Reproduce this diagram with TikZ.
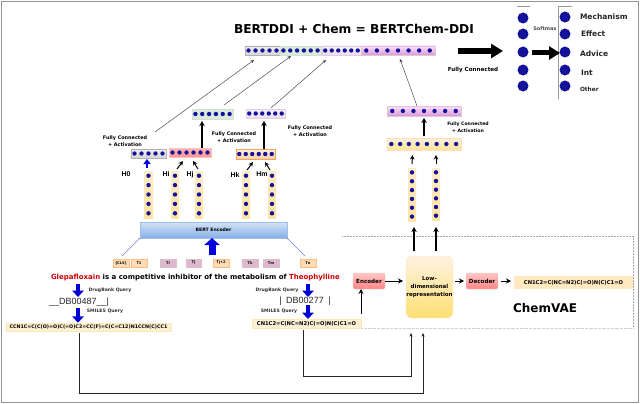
\documentclass[tikz,border=0pt]{standalone}
\usepackage{fontspec}
\setmainfont{DejaVu Sans}
\newfontfamily\arl{Liberation Sans}
\usetikzlibrary{arrows.meta,positioning,calc}
\definecolor{dotblue}{HTML}{12129A}
\definecolor{berttop}{HTML}{D3E3F6}
\definecolor{bertbot}{HTML}{86AEE6}
\tikzset{
  dot/.style={fill=dotblue},
  base/.style={inner sep=0pt,outer sep=0pt},
  graybar/.style={base,top color=gray!12,bottom color=gray!32,draw=gray!60,line width=.3pt},
  greenbar/.style={base,fill=green!30!gray!22,draw=green!20!gray!30,line width=.3pt},
  purplebar/.style={base,top color=violet!5,bottom color=violet!14,draw=violet!20,line width=.3pt},
  pinkbar/.style={base,top color=magenta!14,bottom color=magenta!42!gray!55,draw=magenta!25!gray!40,line width=.3pt},
  salmonbar/.style={base,top color=red!28,bottom color=red!42!white,draw=red!25,line width=.3pt},
  yellowbar/.style={base,top color=yellow!18!orange!14,bottom color=yellow!50!orange!42,draw=orange!25,line width=.2pt},
  orangebar/.style={base,top color=orange!12,bottom color=orange!38,draw=orange!55!brown!70,line width=.3pt},
  colbar/.style={base,top color=yellow!30!orange!22,bottom color=yellow!40!orange!36},
  token/.style={base,font=\fontsize{3.6}{4}\selectfont\bfseries,minimum height=8pt},
  tokY/.style={token,fill=orange!28,draw=orange!50,line width=.3pt},
  tokP/.style={token,fill=magenta!40!gray!45,draw=magenta!30!gray!45,line width=.3pt},
  small/.style={base,align=center,font=\fontsize{4.9}{7.3}\selectfont\bfseries},
  query/.style={base,font=\fontsize{4.6}{5}\selectfont\bfseries,text=black!80},
  hlab/.style={base,font=\arl\fontsize{7}{8}\selectfont\bfseries},
  cls/.style={base,anchor=west,font=\fontsize{7.5}{8}\selectfont\bfseries,text=black!85},
  dbid/.style={base,font=\arl\fontsize{9}{10}\selectfont,text=black!85},
  smile/.style={base,font=\fontsize{4.8}{5}\selectfont\bfseries},
  smilebox/.style={smile,fill=yellow!30!orange!15,draw=yellow!50!orange!30,line width=.3pt},
  redbox/.style={base,rounded corners=1.5pt,top color=red!22,bottom color=red!48,draw=red!25!gray!35,line width=.4pt,font=\fontsize{5.6}{6}\selectfont\bfseries},
  thin arr/.style={draw=black!75,line width=.45pt,-{Stealth[length=3.5pt,width=3pt]}},
  tiny arr/.style={draw=black,line width=1pt,-{Stealth[length=4.5pt,width=4.5pt]}},
  fat arr/.style={draw=black,line width=1.6pt,-{Stealth[length=5pt,width=5.5pt]}},
  mid arr/.style={draw=black,line width=1pt,-{Stealth[length=5pt,width=5pt]}},
  bluearr/.style={draw=blue!85!black,line width=4pt,-{Triangle[length=6.5pt,width=11.5pt]}},
  bigarr/.style={draw=black,line width=6.5pt,-{Triangle[length=12pt,width=14pt]}},
  pipe/.style={draw=black!85,line width=.8pt,-{Stealth[length=3.5pt,width=3pt]}},
  frame/.style={draw=gray!85,line width=.8pt},
}
\newcommand{\hseg}[7]{%
  \node[#6,minimum width={(#3-#1)*1pt},minimum height={(#4-#2)*1pt}] (#5) at ({(#1+#3)/2},{(#2+#4)/2}) {};
  \foreach \k in {1,...,#7} \fill[dot] ({#1+(#3-#1)*(\k-0.5)/#7},{(#2+#4)/2}) circle (2.2);
}
\newcommand{\vseg}[7]{%
  \node[#6,minimum width={(#3-#1)*1pt},minimum height={(#4-#2)*1pt}] (#5) at ({(#1+#3)/2},{(#2+#4)/2}) {};
  \foreach \k in {1,...,#7} \fill[dot] ({(#1+#3)/2},{#2+(#4-#2)*(\k-0.5)/#7}) circle (2.2);
}
\begin{document}
\begin{tikzpicture}[x=1pt,y=-1pt]
\useasboundingbox (0,0) rectangle (640,404);
\fill[white] (0,0) rectangle (640,404);
\draw[frame] (1,403) -- (1,1) -- (638,1) -- (638,402) -- (1,402);

% title
\node[base,font=\fontsize{12.25}{14}\selectfont\bfseries] (title) at (354,29) {BERTDDI + Chem = BERTChem-DDI};

% top vector
\hseg{245}{46}{280}{55}{top1}{graybar}{5}
\hseg{280}{46}{321}{55}{top2}{greenbar}{6}
\hseg{322}{46}{361}{55}{top3}{purplebar}{6}
\hseg{361}{46}{435}{55}{top4}{pinkbar}{7}

% output
\fill[dot] (523,18) circle (5.5) (523,34) circle (5.5) (523,52) circle (5.5) (523,70) circle (5.5) (523,86) circle (5.5);
\fill[dot] (565,17) circle (5.5) (565,34) circle (5.5) (565,52) circle (5.5) (565,70) circle (5.5) (565,86) circle (5.5);
\draw[gray!80,line width=.7pt] (517,6) -- (530,6);
\draw[gray!80,line width=.8pt] (572,6) -- (558,6) -- (558,99);
\coordinate (bigA) at (458,51);
\coordinate (bigB) at (503,51);
\coordinate (softA) at (532,53);
\coordinate (softB) at (560,53);
\draw[bigarr] (bigA) -- (bigB);
\draw[draw=black,line width=5pt,-{Triangle[length=11pt,width=13pt]}] (softA) -- (softB);
\node[base,font=\fontsize{5}{6}\selectfont\bfseries,text=black!70] (softmax) at (545,29) {Softmax};
\node[small,font=\fontsize{5.6}{6}\selectfont\bfseries] (fc) at (473,70) {Fully Connected};
\node[cls] (l1) at (580,17) {Mechanism};
\node[cls] (l2) at (581,34) {Effect};
\node[cls] (l3) at (580,54) {Advice};
\node[cls] (l4) at (581,73) {Int};
\node[cls,font=\fontsize{5.8}{6}\selectfont\bfseries] (l5) at (580,89) {Other};

% chem path
\hseg{387}{106}{461}{116}{chemP}{pinkbar}{7}
\hseg{387}{138}{422}{150}{chemY1}{yellowbar}{4}
\hseg{422}{138}{461}{150}{chemY2}{yellowbar}{4}
\vseg{408}{168}{416}{221}{chemC1}{colbar}{6}
\vseg{432}{168}{440}{220}{chemC2}{colbar}{6}
\draw[thin arr] ([xshift=-7pt]chemP.north) -- ([xshift=-35pt,yshift=-4pt]top4.south east);
\draw[fat arr] ([yshift=2pt]chemP.south |- chemY1.north) -- ([yshift=-2pt]chemP.south);
\draw[tiny arr] ([yshift=4pt]chemC1.north) -- ([xshift=8pt,yshift=-5pt]chemY1.south);
\draw[tiny arr] ([yshift=4pt]chemC2.north) -- ([xshift=-5.5pt,yshift=-5pt]chemY2.south);
\node[small,font=\fontsize{4.6}{7}\selectfont\bfseries] (fc4) at (468,127) {Fully Connected\\+ Activation};

% pooled vectors
\hseg{192}{109}{233}{119}{vecG}{greenbar}{6}
\hseg{246}{109}{285}{118}{vecV}{purplebar}{6}
\hseg{131}{149}{166}{158}{vecA}{graybar}{5}
\hseg{169}{148}{211}{157}{vecB}{salmonbar}{6}
\hseg{236}{149}{275}{159}{vecC}{orangebar}{6}

\draw[thin arr] ([xshift=6.5pt,yshift=17pt]vecA.north) -- ([xshift=-8.5pt,yshift=-5pt]top1.south);
\draw[thin arr] ([xshift=11.5pt,yshift=4pt]vecG.north) -- ([xshift=-9.5pt,yshift=-1pt]top2.south);
\draw[thin arr] ([xshift=5.5pt,yshift=1pt]vecV.north) -- ([xshift=4pt,yshift=-5pt]top3.south west);
\draw[fat arr] ([xshift=12pt]vecB.north) -- ([xshift=12pt,yshift=-2pt]vecB.north |- vecG.south);
\draw[fat arr] ([xshift=8.5pt]vecC.north) -- ([xshift=8.5pt,yshift=-3pt]vecC.north |- vecV.south);

\node[small] (fc1) at (125,141) {Fully Connected\\+ Activation};
\node[small] (fc2) at (234,137) {Fully Connected\\+ Activation};
\node[small] (fc3) at (310,131) {Fully Connected\\+ Activation};

% columns
\vseg{144}{171}{153}{218}{c0}{colbar}{5}
\vseg{171}{171}{179}{218}{c1}{colbar}{5}
\vseg{195}{171}{203}{218}{c2}{colbar}{5}
\vseg{242}{171}{250}{218}{c3}{colbar}{5}
\vseg{268}{171}{276}{218}{c4}{colbar}{5}
\node[hlab] (h0) at (126,174) {H0};
\node[hlab] (h1) at (166,174) {Hi};
\node[hlab] (h2) at (190,175) {Hj};
\node[hlab] (h3) at (235,175) {Hk};
\node[hlab] (h4) at (262,174) {Hm};

\draw[draw=blue!85!black,line width=2.4pt,-{Triangle[length=5pt,width=7pt]}] ([xshift=-1.5pt,yshift=3pt]c0.north) -- ([xshift=-1.5pt,yshift=-1pt]vecA.south);
\draw[tiny arr] ([xshift=2pt,yshift=2pt]c1.north) -- ([xshift=-7pt,yshift=-4pt]vecB.south);
\draw[tiny arr] ([xshift=-1pt,yshift=2pt]c2.north) -- ([xshift=3pt,yshift=-4pt]vecB.south);
\draw[tiny arr] ([xshift=1pt,yshift=1pt]c3.north) -- ([xshift=-2.5pt,yshift=-3pt]vecC.south);
\draw[tiny arr] ([xshift=-2pt,yshift=1pt]c4.north) -- ([xshift=9.5pt,yshift=-3pt]vecC.south);

% BERT
\node[base,minimum width=147pt,minimum height=16pt,top color=berttop,bottom color=bertbot,draw=bertbot!80,line width=.4pt,font=\fontsize{4.6}{5}\selectfont\bfseries] (bert) at (213.5,230) {BERT Encoder};

\node[tokY,minimum width=16pt] (t0) at (121,263) {[CLS]};
\node[tokY,minimum width=16pt] (t1) at (139,263) {T1};
\node[tokP,minimum width=16pt] (t2) at (168,263) {Ti};
\node[tokP,minimum width=15pt] (t3) at (193.5,263) {Tj};
\node[tokY,minimum width=16pt] (t4) at (221,263) {Tj+2};
\node[tokP,minimum width=16pt] (t5) at (250,263) {Tk};
\node[tokP,minimum width=16pt] (t6) at (271,263) {Tm};
\node[tokY,minimum width=16pt] (t7) at (308,263) {Tn};

\draw[blue!50!gray!70,line width=.4pt,{Circle[length=1.5pt]}-] (bert.south west) -- ([xshift=1pt,yshift=3pt]t0.north);
\draw[blue!50!gray!70,line width=.4pt,{Circle[length=1.5pt]}-] (bert.south east) -- ([xshift=-3pt,yshift=3pt]t7.north);
\coordinate (bertIn) at (212,255);
\draw[draw=blue!85!black,line width=7pt,-{Triangle[length=7pt,width=15pt]}] (bertIn) -- (bert.south -| bertIn);

% sentence
\node[base,anchor=west,font=\fontsize{7}{8}\selectfont\bfseries] (sent) at (51,278) {\textcolor{red!80!black}{Glepafloxain} is a competitive inhibitor of the metabolism of \textcolor{red!80!black}{Theophylline}};

% queries
\coordinate (qa) at (78,284);
\coordinate (qb) at (308,284);
\coordinate (qc) at (78,308);
\coordinate (qd) at (308,305);
\node[dbid] (dbA) at (79,302) {\_\_DB00487\_\_|};
\node[dbid] (dbB) at (305,301) {|\,\,\,DB00277\,\,\,|};
\node[query] (dq1) at (110,290) {DrugBank Query};
\node[query] (dq2) at (277,290) {DrugBank Query};
\node[query] (sq1) at (105,311) {SMILES Query};
\node[query] (sq2) at (279,311) {SMILES Query};
\node[smilebox,minimum width=165pt,minimum height=8.5pt] (smA) at (88.5,327) {CCN1C=C(C(O)=O)C(=O)C2=CC(F)=C(C=C12)N1CCN(C)CC1};
\node[smilebox,font=\fontsize{5.2}{6}\selectfont\bfseries,minimum width=109pt,minimum height=9pt] (smB) at (306.5,323.5) {CN1C2=C(NC=N2)C(=O)N(C)C1=O};
\draw[bluearr] (qa) -- ++(0,13);
\draw[bluearr] (qb) -- ++(0,13);
\draw[bluearr] (qc) -- (qc |- smA.north);
\draw[bluearr] (qd) -- (qd |- smB.north);

% chemVAE
\draw[gray!70,line width=.5pt,densely dotted] (342,236) -- (633,236) -- (633,329);
\draw[gray!35,line width=.3pt,densely dotted] (361,328.5) -- (633,328.5);
\node[redbox,minimum width=32pt,minimum height=16pt] (enc) at (369,281) {Encoder};
\node[base,rounded corners=6pt,minimum width=47pt,minimum height=62pt,top color=yellow!14!orange!12,bottom color=yellow!55!orange!55,draw=orange!20,line width=.4pt,align=center,font=\fontsize{5.5}{7.8}\selectfont\bfseries] (low) at (429.5,287) {Low-\\dimensional\\representation};
\node[redbox,minimum width=32pt,minimum height=16pt] (dec) at (482,281) {Decoder};
\node[smilebox,font=\fontsize{5.2}{6}\selectfont\bfseries,minimum width=119pt,minimum height=13pt,draw=none,fill=yellow!30!orange!22] (out) at (573.5,282.5) {CN1C2=C(NC=N2)C(=O)N(C)C1=O};
\node[base,font=\fontsize{12}{14}\selectfont\bfseries] (vae) at (545,308) {ChemVAE};

\draw[mid arr] (enc.east) -- ([xshift=-3pt]enc.east -| low.west);
\draw[mid arr] ([xshift=2pt,yshift=6pt]low.east) -- ([xshift=-2pt]dec.west);
\draw[mid arr] ([xshift=3pt]dec.east) -- ([xshift=-3pt,yshift=1.5pt]out.west);
\draw[mid arr] ([xshift=-8pt,yshift=5pt]enc.south |- smB.north) -- ([xshift=-8pt]enc.south);
\draw[fat arr,line width=1.2pt] ([xshift=-15.5pt,yshift=5pt]low.north) -- ([xshift=-15.5pt,yshift=-6pt]low.north |- chemC1.south);
\draw[fat arr,line width=1.2pt] ([xshift=6.5pt,yshift=5pt]low.north) -- ([xshift=6.5pt,yshift=-7pt]low.north |- chemC2.south);

% pipes
\coordinate (pipeA) at (423,333);
\coordinate (pipeB) at (411,333);
\draw[pipe] ([xshift=-9.5pt,yshift=-2pt]smA.south) |- (423,393) -- (pipeA);
\draw[pipe] ([xshift=-3.5pt,yshift=-2pt]smB.south) |- (411,376) -- (pipeB);
\end{tikzpicture}
\end{document}
